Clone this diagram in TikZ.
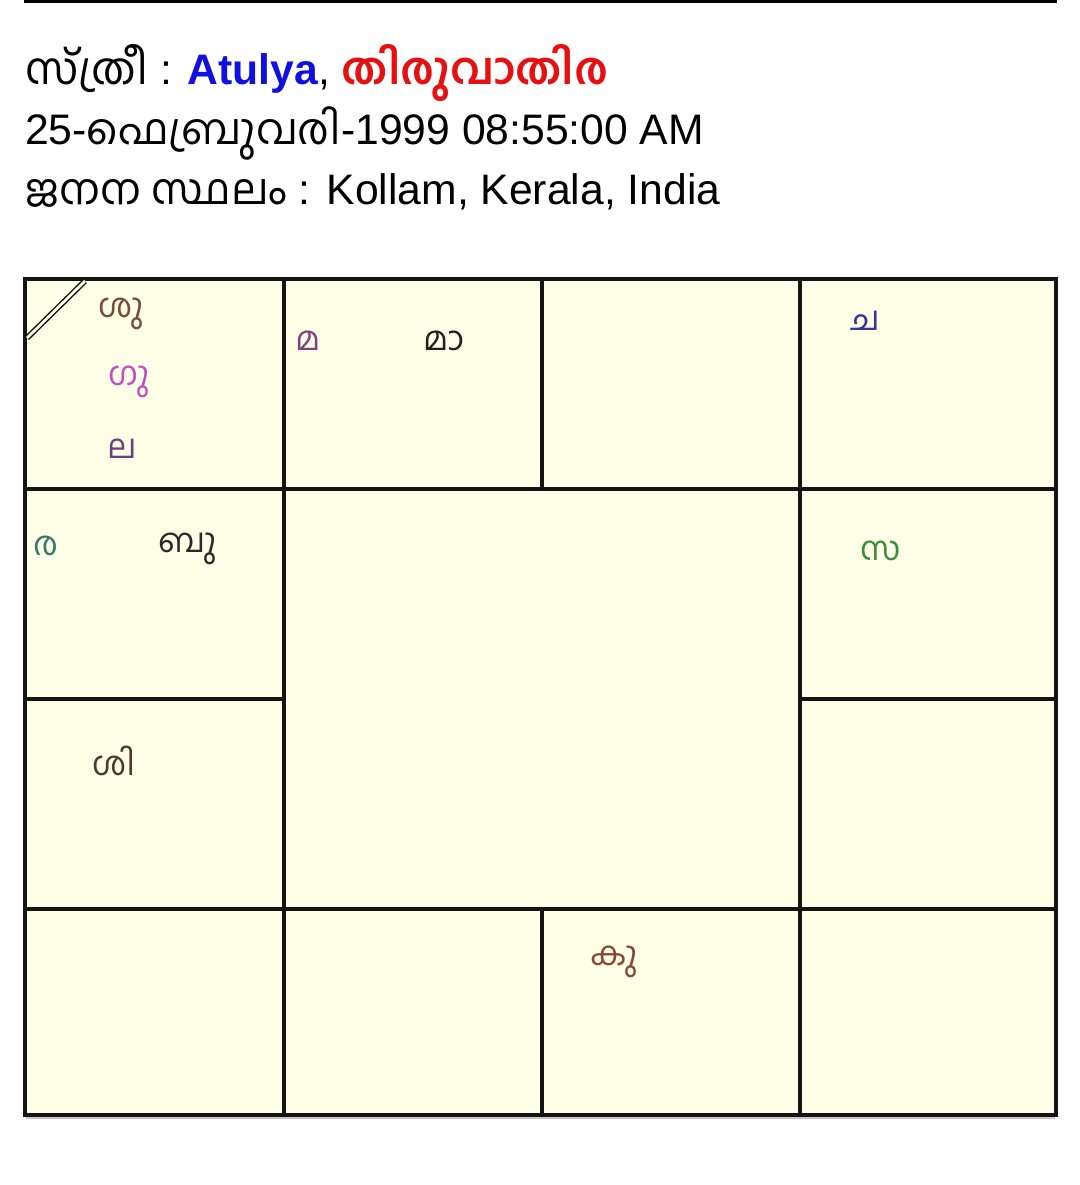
\documentclass[tikz,border=0pt]{standalone}
\usepackage{fontspec}
\setmainfont{Liberation Sans}
\newfontfamily\mal[Script=Malayalam]{Hind Kochi}
\definecolor{cellfill}{RGB}{255,255,232}
\definecolor{gridline}{RGB}{20,20,20}
\definecolor{nameblue}{RGB}{16,16,224}
\definecolor{starred}{RGB}{230,16,16}
\definecolor{cShu}{RGB}{123,75,58}
\definecolor{cGu}{RGB}{192,80,192}
\definecolor{cLa}{RGB}{112,64,122}
\definecolor{cMa}{RGB}{128,64,127}
\definecolor{cMaa}{RGB}{32,32,32}
\definecolor{cCha}{RGB}{53,53,154}
\definecolor{cRa}{RGB}{58,122,110}
\definecolor{cBu}{RGB}{42,42,42}
\definecolor{cSa}{RGB}{60,140,60}
\definecolor{cShi}{RGB}{74,58,50}
\definecolor{cKu}{RGB}{138,69,53}
\tikzset{
  hdr/.style={anchor=base west, inner sep=0pt, font=\fontsize{32}{38}\selectfont},
  planet/.style={anchor=base west, inner sep=0pt, font=\mal\fontsize{25}{29}\selectfont},
  gridln/.style={draw=gridline, line width=2.3pt},
}
\begin{document}
\begin{tikzpicture}[x=0.75pt,y=-0.75pt]
\useasboundingbox (0,0) rectangle (1080,1185);
\fill[white] (0,0) rectangle (1080,1185);
% top rule
\coordinate (ruleL) at (24,1.2);
\coordinate (ruleR) at (1057,1.2);
\draw[line width=2pt] (ruleL) -- (ruleR);
% header
\node[hdr] (l1) at (25,84) {{\mal\fontsize{33}{38}\selectfont സ്ത്രീ} : \textbf{\color{nameblue}Atulya}, {\mal\fontsize{33}{38}\selectfont\bfseries\color{starred}തിരുവാതിര}};
\node[hdr] (l2) at (25,144) {25-{\mal ഫെബ്രുവരി}-1999 08:55:00 AM};
\node[hdr] (l3) at (25,204) {{\mal ജനന സ്ഥലം} : Kollam, Kerala, India};
% chart
\coordinate (A) at (25,279);
\coordinate (B) at (1056,1115);
\draw[gray!45, line width=1pt] (26,1118) -- (1055,1118);
\fill[cellfill] (A) rectangle (B);
% full lines
\draw[gridln] (25,489) -- (1056,489);
\draw[gridln] (25,909) -- (1056,909);
\draw[gridln] (284,279) -- (284,1115);
\draw[gridln] (800,279) -- (800,1115);
% partial lines
\draw[gridln] (25,699) -- (284,699);
\draw[gridln] (800,699) -- (1056,699);
\draw[gridln] (542,279) -- (542,489);
\draw[gridln] (542,909) -- (542,1115);
\draw[gridln, line width=2.6pt] (A) rectangle (B);
% lagna mark
\coordinate (d1) at (27,338);
\coordinate (d2) at (85,281);
\draw[double=cellfill, double distance=2pt, line width=1.1pt, draw=gridline] (d1) -- (d2);
% planets
\node[planet, text=cShu] (shu) at (98,317) {ശു};
\node[planet, text=cGu] (gu) at (108,385) {ഗു};
\node[planet, text=cLa] (la) at (107,458) {ല};
\node[planet, text=cMa] (ma) at (295,350) {മ};
\node[planet, text=cMaa] (maa) at (423,350) {മാ};
\node[planet, text=cCha] (cha) at (850,330) {ച};
\node[planet, text=cRa] (ra) at (33,555) {ര};
\node[planet, text=cBu] (bu) at (158,552) {ബു};
\node[planet, text=cSa] (sa) at (860,560) {സ};
\node[planet, text=cShi] (shi) at (92,775) {ശി};
\node[planet, text=cKu] (ku) at (590,965) {കു};
\end{tikzpicture}
\end{document}
